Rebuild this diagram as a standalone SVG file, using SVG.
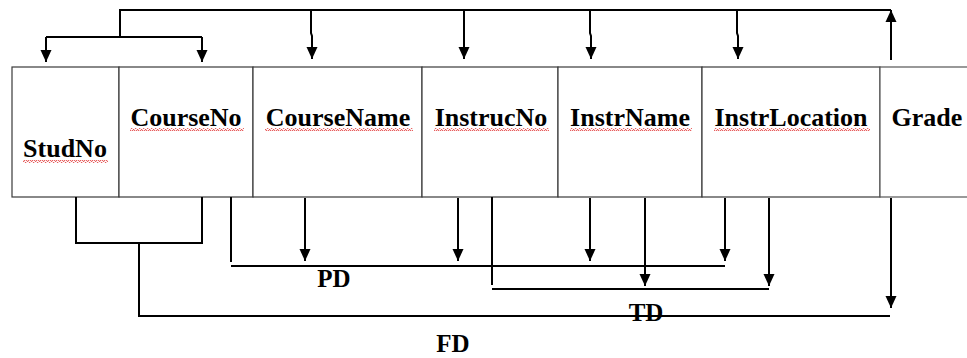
<svg xmlns="http://www.w3.org/2000/svg" width="967" height="358" viewBox="0 0 967 358">
  <style>
    .cell { fill: #ffffff; stroke: #3a3a3a; stroke-width: 1.2; }
    .lbl { font-family: "Liberation Serif", "Times New Roman", serif; font-weight: bold; font-size: 26px; fill: #000; text-anchor: middle; }
    .fd { font-family: "Liberation Serif", "Times New Roman", serif; font-weight: bold; font-size: 25px; fill: #000; text-anchor: middle; }
    .ln { fill: none; stroke: #000; stroke-width: 2; }
    .arr { fill: none; stroke: #000; stroke-width: 2; marker-end: url(#head); }
    .sq { fill: url(#squiggle); }
  </style>
  <defs>
    <marker id="head" markerUnits="userSpaceOnUse" markerWidth="13" markerHeight="13" refX="12" refY="6" orient="auto" viewBox="0 0 13 12">
      <path d="M0,0.5 L12,6 L0,11.5 Z" fill="#000"/>
    </marker>
    <pattern id="squiggle" patternUnits="userSpaceOnUse" width="4" height="3">
      <path d="M0,2.5 L1,0.8 L2,0.5 L3,2.2 L4,2.5" fill="none" stroke="#e23a3a" stroke-width="0.9"/>
    </pattern>
  </defs>

  <!-- relation columns -->
  <g id="col-studno">
    <rect class="cell" x="12" y="67" width="107" height="130"/>
    <text class="lbl" x="65" y="157">StudNo</text>
    <rect class="sq" x="23" y="160" width="85" height="3"/>
  </g>
  <g id="col-courseno">
    <rect class="cell" x="119" y="67" width="134" height="130"/>
    <text class="lbl" x="186" y="126">CourseNo</text>
    <rect class="sq" x="130" y="128" width="114" height="3"/>
  </g>
  <g id="col-coursename">
    <rect class="cell" x="253" y="67" width="169" height="130"/>
    <text class="lbl" x="338" y="126">CourseName</text>
    <rect class="sq" x="265" y="128" width="148" height="3"/>
  </g>
  <g id="col-instrucno">
    <rect class="cell" x="422" y="67" width="136" height="130"/>
    <text class="lbl" x="491" y="126">InstrucNo</text>
    <rect class="sq" x="434" y="128" width="115" height="3"/>
  </g>
  <g id="col-instrname">
    <rect class="cell" x="558" y="67" width="144" height="130"/>
    <text class="lbl" x="630" y="126">InstrName</text>
    <rect class="sq" x="570" y="128" width="122" height="3"/>
  </g>
  <g id="col-instrlocation">
    <rect class="cell" x="702" y="67" width="178" height="130"/>
    <text class="lbl" x="791" y="126">InstrLocation</text>
    <rect class="sq" x="714" y="128" width="156" height="3"/>
  </g>
  <g id="col-grade">
    <rect class="cell" x="880" y="67" width="100" height="130" style="stroke:#555"/>
    <text class="lbl" x="927" y="126">Grade</text>
  </g>

  <!-- dependency connectors -->
  <g id="connectors">
    <!-- full dependency fan from the key to every attribute -->
    <path class="ln" d="M120,37 V10 H891"/>
    <path class="ln" d="M46,37 H202"/>
    <path class="arr" d="M46,37 V62"/>
    <path class="arr" d="M202,37 V62"/>
    <path class="arr" d="M311,10 V33 L312,36 V59"/>
    <path class="arr" d="M464,10 V59"/>
    <path class="arr" d="M590,10 V33 L591,36 V59"/>
    <path class="arr" d="M737,10 V33 L738,36 V59"/>
    <path class="arr" d="M891,60 V10"/>

    <!-- composite key bracket -> FD -->
    <path class="ln" d="M76,197 V243 H202 V197"/>
    <path class="ln" d="M139,243 V316 H890"/>
    <path class="arr" d="M891,198 V308"/>

    <!-- partial dependency on CourseNo -->
    <path class="ln" d="M231,197 V262"/>
    <path class="ln" d="M231,266 H725"/>
    <path class="arr" d="M305,198 V261"/>
    <path class="arr" d="M458,198 V261"/>
    <path class="arr" d="M590,198 V261"/>
    <path class="arr" d="M725,198 V261"/>

    <!-- transitive dependency on InstrucNo -->
    <path class="ln" d="M492,197 V285"/>
    <path class="ln" d="M492,289 H769"/>
    <path class="arr" d="M645,198 V286"/>
    <path class="arr" d="M769,198 V286"/>

    <text class="fd" x="334" y="287">PD</text>
    <text class="fd" x="646" y="321">TD</text>
    <text class="fd" x="453" y="352">FD</text>
  </g>
</svg>
